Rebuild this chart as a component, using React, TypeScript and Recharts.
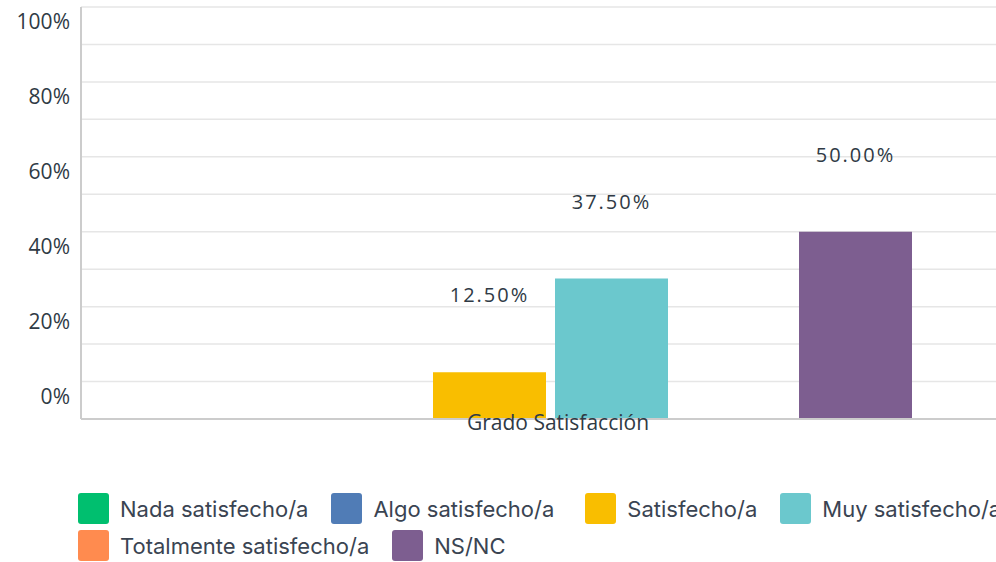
import { Bar, BarChart, CartesianGrid, LabelList, XAxis, YAxis } from "recharts";

const categories = ["Grado Satisfacción"];
const seriesNames = [
    "Nada satisfecho/a",
    "Algo satisfecho/a",
    "Satisfecho/a",
    "Muy satisfecho/a",
    "Totalmente satisfecho/a",
    "NS/NC",
];
const seriesValues = [0, 0, 12.5, 37.5, 0, 50];
const seriesColors = ["#00bf6f", "#507cb6", "#f9be00", "#6bc8cd", "#ff8b4f", "#7d5e90"];
const yTicks = [0, 10, 20, 30, 40, 50, 60, 70, 80, 90, 100];

const data = categories.map((name) => {
    const row: Record<string, string | number> = { name };
    seriesNames.forEach((s, i) => (row[s] = seriesValues[i]));
    return row;
});

const YTick = ({ x, y, payload }: any) => {
    if (payload.value % 20 !== 0) return null;
    return (
        <text x={x - 3} y={y - 23} textAnchor="end" dominantBaseline="central"
            fill="#2f3a45" fontSize={21} fontFamily="Open Sans" fontWeight={500}>
            {payload.value}%
        </text>
    );
};

const XTick = ({ x, y, payload }: any) => (
    <text x={x + 8} y={y - 5} textAnchor="middle" dominantBaseline="central"
        fill="#2f3a45" fontSize={21} fontFamily="Open Sans" fontWeight={500}>
        {payload.value}
    </text>
);

const fmt = (v: any) => (v > 0 ? `${Number(v).toFixed(2)}%` : "");

export default function App() {
    return (
        <div style={{ position: "fixed", left: 0, top: 0, width: 996, height: 562, overflow: "hidden", background: "#fff" }}>
            <BarChart width={1040} height={440} data={data} margin={{ top: 7, right: 21, left: 0, bottom: 0 }}
                barSize={113} barGap={9}>
                <CartesianGrid vertical={false} stroke="#e6e6e6" strokeWidth={1.5} />
                <XAxis dataKey="name" height={21} tick={<XTick />} tickLine={false}
                    axisLine={{ stroke: "#cccccc", strokeWidth: 2 }} />
                <YAxis width={81} domain={[0, 110]} ticks={yTicks} tick={<YTick />} tickLine={false}
                    axisLine={{ stroke: "#cccccc", strokeWidth: 2 }} />
                {seriesNames.map((s, i) => (
                    <Bar key={s} dataKey={s} fill={seriesColors[i]} isAnimationActive={false}>
                        <LabelList dataKey={s} position="top" offset={70} formatter={fmt}
                            fill="#2f3a45" fontSize={20} fontFamily="Open Sans" fontWeight={500} letterSpacing={2} />
                    </Bar>
                ))}
            </BarChart>
            <div style={{ position: "absolute", left: 78, top: 493, width: 990, display: "flex", flexWrap: "wrap", rowGap: 6 }}>
                {seriesNames.map((s, i) => (
                    <div key={s} style={{ display: "flex", alignItems: "center", marginRight: i === 1 ? 31 : 23 }}>
                        <div style={{ width: 31, height: 31, borderRadius: 3, background: seriesColors[i], marginRight: 11 }} />
                        <span style={{ fontFamily: "Inter", fontSize: 22, color: "#3a4452", whiteSpace: "nowrap" }}>{s}</span>
                    </div>
                ))}
            </div>
        </div>
    );
}
